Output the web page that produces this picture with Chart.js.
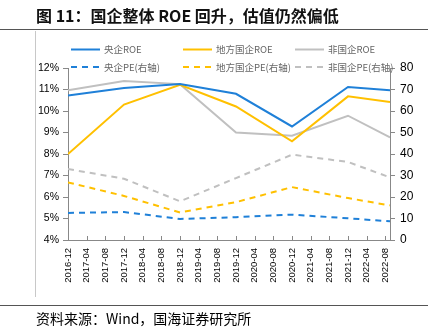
<!DOCTYPE html>
<html>
<head>
<meta charset="utf-8">
<script src="https://cdn.jsdelivr.net/npm/chart.js@4/dist/chart.umd.min.js"></script>
<style>
  html, body { margin: 0; padding: 0; background: #fff; }
  #wrap { position: relative; width: 440px; height: 332px; overflow: hidden; }
  #c { position: absolute; left: 0; top: 0; }
  .title { position: absolute; left: 36px; top: 5px; font: 700 16px/21px "Noto Sans CJK SC", sans-serif; color: #111; white-space: nowrap; }
  .rule { position: absolute; left: 0; width: 428px; height: 0; border-top: 1.5px solid #555; }
  .vline { position: absolute; left: 35px; top: 31px; width: 0; height: 266px; border-left: 1px solid #c8c8c8; }
  .source { position: absolute; left: 36px; top: 309px; font: 400 14px/18px "Noto Sans CJK SC", sans-serif; color: #000; white-space: nowrap; }
</style>
</head>
<body>
<div id="wrap">
  <canvas id="c" width="440" height="332"></canvas>
  <div class="title">图 11：国企整体 ROE 回升，估值仍然偏低</div>
  <div class="rule" style="top:29px"></div>
  <div class="vline"></div>
  <div class="rule" style="top:305px"></div>
  <div class="source">资料来源：Wind，国海证券研究所</div>
</div>
<script>
// Reporting periods (year-end figures, latest is 2022 Q3)
const periods = ['2016-12', '2017-12', '2018-12', '2019-12', '2020-12', '2021-12', '2022-09'];

// Axis tick labels, every four months
const tickLabels = ['2016-12', '2017-04', '2017-08', '2017-12', '2018-04', '2018-08', '2018-12',
  '2019-04', '2019-08', '2019-12', '2020-04', '2020-08', '2020-12', '2021-04', '2021-08',
  '2021-12', '2022-04', '2022-08'];

// ROE (%), left axis
const centralROE = [10.72, 11.07, 11.25, 10.80, 9.28, 11.12, 10.96];
const localROE   = [8.00, 10.30, 11.22, 10.21, 8.59, 10.68, 10.42];
const privateROE = [10.96, 11.40, 11.25, 9.00, 8.85, 9.78, 8.77];

// PE (x), right axis
const centralPE = [12.6, 13.0, 9.8, 10.6, 11.8, 10.1, 8.7];
const localPE   = [26.8, 20.5, 12.8, 17.6, 24.6, 19.5, 16.1];
const privatePE = [33.0, 28.5, 18.0, 28.8, 39.7, 36.3, 29.1];

const seriesNames = ['央企ROE', '地方国企ROE', '非国企ROE', '央企PE(右轴)', '地方国企PE(右轴)', '非国企PE(右轴)'];

const BLUE = '#1f80d8', GOLD = '#ffc000', GREY = '#c0c0c0';

// months elapsed since 2016-12
function monthIndex(s) {
  const [y, m] = s.split('-').map(Number);
  return (y - 2016) * 12 + (m - 12);
}
function toPoints(values) {
  return periods.map((p, i) => ({ x: monthIndex(p), y: values[i] }));
}

function ds(label, values, color, axis, dashed) {
  return {
    label, data: toPoints(values), yAxisID: axis,
    borderColor: color, backgroundColor: color,
    borderWidth: 2, borderDash: dashed ? [6, 5] : [],
    pointRadius: 0, tension: 0, fill: false
  };
}

// inward tick marks on the date axis
const innerTicks = {
  id: 'innerTicks',
  afterDraw(chart) {
    const { ctx, chartArea } = chart;
    const x = chart.scales.x;
    ctx.save();
    ctx.strokeStyle = '#888';
    ctx.lineWidth = 1;
    ctx.beginPath();
    x.ticks.forEach(t => {
      const px = Math.round(x.getPixelForValue(t.value)) + 0.5;
      ctx.moveTo(px, chartArea.bottom);
      ctx.lineTo(px, chartArea.bottom - 4);
    });
    ctx.stroke();
    ctx.restore();
  }
};

// two-row legend above the plot
const legendRows = {
  id: 'legendRows',
  afterDraw(chart) {
    const { ctx } = chart;
    const cols = [71, 183, 295];
    const rows = [49.5, 67];
    ctx.save();
    ctx.font = '9.5px "Noto Sans CJK SC", "Liberation Sans", sans-serif';
    ctx.textBaseline = 'middle';
    chart.data.datasets.forEach((d, i) => {
      const x0 = cols[i % 3], y0 = rows[Math.floor(i / 3)];
      ctx.strokeStyle = d.borderColor;
      ctx.lineWidth = 2;
      ctx.setLineDash(d.borderDash || []);
      ctx.beginPath();
      ctx.moveTo(x0, y0);
      ctx.lineTo(x0 + 29, y0);
      ctx.stroke();
      ctx.setLineDash([]);
      ctx.fillStyle = '#666';
      ctx.fillText(d.label, x0 + 33, y0);
    });
    ctx.restore();
  }
};

new Chart(document.getElementById('c'), {
  type: 'line',
  data: {
    datasets: [
      ds(seriesNames[0], centralROE, BLUE, 'y', false),
      ds(seriesNames[1], localROE, GOLD, 'y', false),
      ds(seriesNames[2], privateROE, GREY, 'y', false),
      ds(seriesNames[3], centralPE, BLUE, 'y1', true),
      ds(seriesNames[4], localPE, GOLD, 'y1', true),
      ds(seriesNames[5], privatePE, GREY, 'y1', true)
    ]
  },
  options: {
    responsive: false,
    devicePixelRatio: 1,
    animation: false,
    layout: { padding: { top: 68, left: 0, right: 0, bottom: 0 } },
    plugins: { legend: { display: false }, tooltip: { enabled: false } },
    scales: {
      x: {
        type: 'linear', min: 0, max: 69,
        afterBuildTicks(scale) {
          scale.ticks = tickLabels.map(l => ({ value: monthIndex(l) }));
        },
        afterFit(scale) { scale.height = 92; },
        ticks: {
          autoSkip: false, maxRotation: 90, minRotation: 90, padding: 8,
          color: '#000',
          font: { family: '"Liberation Sans", Arial, sans-serif', size: 9.5 },
          callback(v) {
            const i = tickLabels.findIndex(l => monthIndex(l) === v);
            return i >= 0 ? tickLabels[i] : '';
          }
        },
        grid: { drawOnChartArea: false, drawTicks: false },
        border: { display: true, color: '#888', width: 1 }
      },
      y: {
        position: 'left', min: 4, max: 12,
        afterFit(scale) { scale.width = 68; },
        ticks: {
          stepSize: 1, padding: 4, color: '#000',
          font: { family: '"Liberation Sans", Arial, sans-serif', size: 10.5 },
          callback: v => v + '%'
        },
        grid: { drawOnChartArea: false, drawTicks: true, tickLength: 5, color: '#888' },
        border: { display: true, color: '#888', width: 1 }
      },
      y1: {
        position: 'right', min: 0, max: 80,
        afterFit(scale) { scale.width = 50; },
        ticks: {
          stepSize: 10, padding: 5, color: '#000',
          font: { family: '"Liberation Sans", Arial, sans-serif', size: 12 }
        },
        grid: { drawOnChartArea: false, drawTicks: true, tickLength: 5, color: '#888' },
        border: { display: true, color: '#888', width: 1 }
      }
    }
  },
  plugins: [innerTicks, legendRows]
});
</script>
</body>
</html>
